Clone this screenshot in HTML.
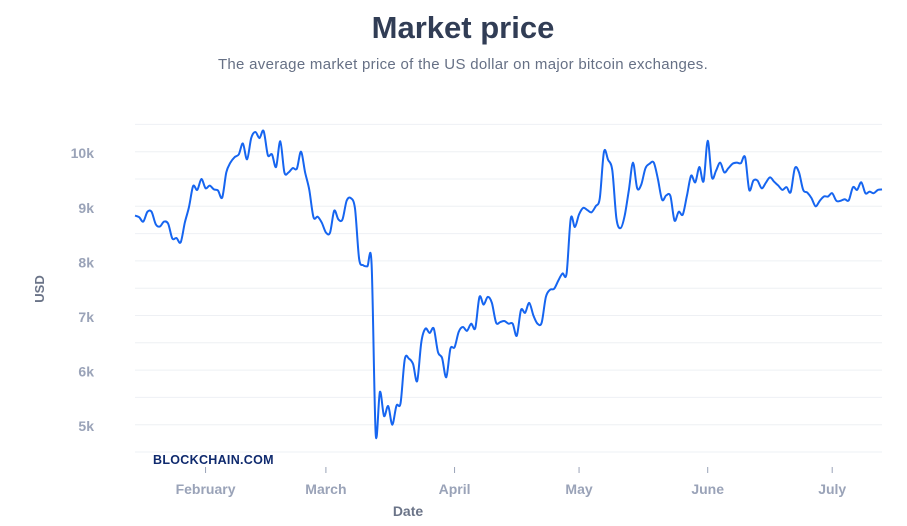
<!DOCTYPE html>
<html><head><meta charset="utf-8"><style>
body{margin:0;background:#fff;width:907px;height:526px;overflow:hidden;font-family:"Liberation Sans",sans-serif}
svg{display:block}
</style></head><body>
<svg width="907" height="526">
<text x="463" y="38" text-anchor="middle" font-size="31" font-weight="bold" fill="#313d55">Market price</text>
<text x="463" y="69" text-anchor="middle" font-size="15" letter-spacing="0.3" fill="#667085">The average market price of the US dollar on major bitcoin exchanges.</text>
<g id="grid"></g>
<g id="yticks"></g>
<g id="xticks"></g>
<text x="0" y="0" transform="translate(44,289) rotate(-90)" text-anchor="middle" font-size="13" font-weight="bold" fill="#6b7488">USD</text>
<text x="408" y="516" text-anchor="middle" font-size="14" font-weight="bold" fill="#6b7488">Date</text>
<text x="153" y="464" font-size="12.5" font-weight="bold" letter-spacing="0.3" fill="#0f2a6e">BLOCKCHAIN.COM</text>
<path id="line" fill="none" stroke="#1665f0" stroke-width="2" stroke-linejoin="round"></path>
</svg>
<script>
const values = [8830,8800,8720,8900,8900,8670,8630,8720,8680,8410,8420,8340,8700,8980,9370,9300,9500,9330,9380,9310,9290,9160,9620,9800,9900,9950,10150,9860,10250,10360,10250,10380,9940,9950,9720,10190,9620,9620,9700,9690,10000,9620,9300,8800,8810,8700,8520,8520,8920,8760,8760,9100,9150,8960,8040,7920,7900,7940,4830,5600,5160,5340,5000,5350,5400,6200,6210,6110,5800,6520,6760,6680,6760,6330,6220,5870,6390,6420,6700,6790,6720,6850,6770,7340,7200,7340,7230,6870,6880,6900,6850,6850,6630,7100,7050,7230,7000,6850,6870,7340,7470,7490,7640,7770,7770,8780,8620,8850,8970,8930,8890,9000,9150,10000,9850,9660,8780,8600,8830,9300,9800,9330,9400,9700,9780,9800,9500,9120,9200,9190,8740,8900,8850,9200,9560,9440,9720,9460,10200,9530,9650,9800,9620,9700,9780,9800,9790,9900,9300,9470,9470,9330,9430,9530,9450,9380,9300,9350,9260,9700,9620,9300,9250,9150,9000,9100,9180,9180,9240,9100,9100,9130,9110,9350,9300,9440,9240,9270,9240,9300,9310];
const yTicks = [5000,6000,7000,8000,9000,10000];
const yTickLabels = ["5k","6k","7k","8k","9k","10k"];
const gridValues = [4500,5000,5500,6000,6500,7000,7500,8000,8500,9000,9500,10000,10500];
const monthDays = [17,46,77,107,138,168];
const monthLabels = ["February","March","April","May","June","July"];

const NS="http://www.w3.org/2000/svg";
const X0=135, DX=4.15;
function xs(d){return X0+d*DX;}
function ys(v){return 452-(v-4500)*0.0546;}
function mk(tag,attrs,parent){const e=document.createElementNS(NS,tag);for(const k in attrs)e.setAttribute(k,attrs[k]);parent.appendChild(e);return e;}
const grid=document.getElementById('grid');
gridValues.forEach(v=>{
  const l=mk('line',{x1:135,x2:882,y1:ys(v),y2:ys(v),stroke:'#eef0f4','stroke-width':1},grid);
  
  
});
const yt=document.getElementById('yticks');
yTicks.forEach((v,i)=>{
  const t=mk('text',{x:94,y:ys(v)+6.5,'text-anchor':'end','font-size':14,'font-weight':'bold',fill:'#9aa3b8'},yt);
  t.textContent=yTickLabels[i];
  
  
});
const xt=document.getElementById('xticks');
monthDays.forEach((d,i)=>{
  const x=xs(d);
  const tk=mk('line',{x1:x,x2:x,y1:467,y2:473,stroke:'#9aa3b8','stroke-width':1},xt);
  
  
  const t=mk('text',{x:x,y:494,'text-anchor':'middle','font-size':14,'font-weight':'bold',fill:'#9aa3b8'},xt);
  t.textContent=monthLabels[i];
  
  
});
const pts=values.map((v,i)=>[xs(i),ys(v)]);
let d='M'+pts[0][0].toFixed(1)+','+pts[0][1].toFixed(1);
for(let i=0;i<pts.length-1;i++){
  const p0=pts[Math.max(0,i-1)],p1=pts[i],p2=pts[i+1],p3=pts[Math.min(pts.length-1,i+2)];
  const t=0.16;
  const c1=[p1[0]+(p2[0]-p0[0])*t,p1[1]+(p2[1]-p0[1])*t];
  const c2=[p2[0]-(p3[0]-p1[0])*t,p2[1]-(p3[1]-p1[1])*t];
  d+=' C'+c1[0].toFixed(1)+','+c1[1].toFixed(1)+' '+c2[0].toFixed(1)+','+c2[1].toFixed(1)+' '+p2[0].toFixed(1)+','+p2[1].toFixed(1);
}
document.getElementById('line').setAttribute('d',d);
</script>
</body></html>
